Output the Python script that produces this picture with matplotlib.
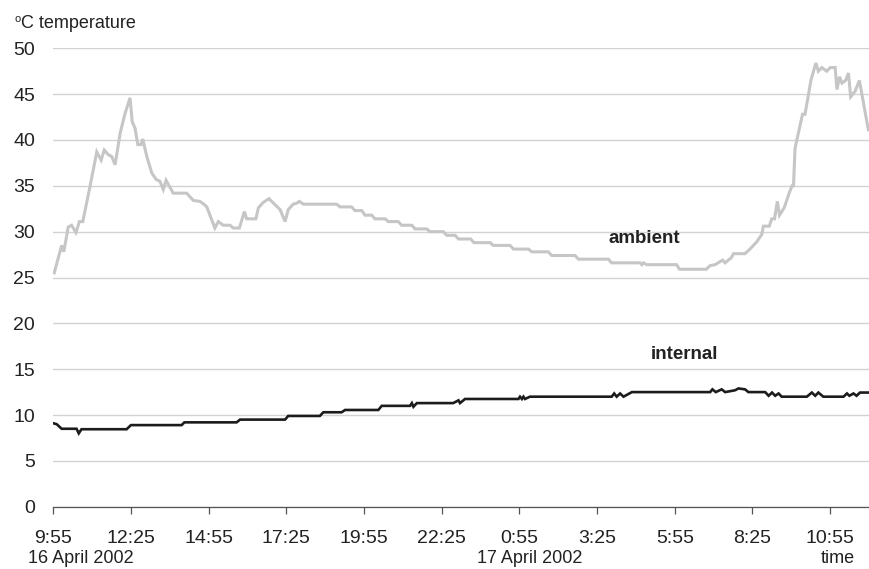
import matplotlib.pyplot as plt
import matplotlib.transforms as mtransforms

# hours after 9:55 on 16 April 2002
amb_hours = [0.03, 0.27, 0.34, 0.48, 0.59, 0.73, 0.84, 0.95, 1.18, 1.40, 1.54, 1.64, 1.77, 1.88, 1.99,
             2.15, 2.31, 2.47, 2.54, 2.63, 2.72, 2.82, 2.88, 3.01, 3.17, 3.31, 3.43, 3.54, 3.63, 3.86,
             4.29, 4.51, 4.72, 4.88, 4.94, 5.20, 5.31, 5.47, 5.69, 5.79, 5.99, 6.15, 6.22, 6.52, 6.60,
             6.76, 6.94, 7.30, 7.46, 7.56, 7.72, 7.83, 7.92, 8.05, 9.12, 9.23, 9.60, 9.71, 9.93, 10.03,
             10.25, 10.35, 10.68, 10.78, 11.10, 11.21, 11.54, 11.64, 12.02, 12.12, 12.55, 12.66, 12.93,
             13.04, 13.43, 13.54, 14.06, 14.16, 14.70, 14.81, 15.29, 15.40, 15.93, 16.04, 16.79, 16.90,
             17.86, 17.97, 18.88, 18.94, 18.99, 19.10, 20.06, 20.15, 21.01, 21.14, 21.30, 21.54, 21.62,
             21.83, 21.89, 22.26, 22.42, 22.64, 22.80, 22.85, 23.04, 23.12, 23.21, 23.30, 23.37, 23.52,
             23.66, 23.77, 23.82, 23.87, 24.03, 24.11, 24.19, 24.30, 24.38, 24.54, 24.62, 24.73, 24.89,
             25.00, 25.16, 25.22, 25.30, 25.38, 25.50, 25.59, 25.66, 25.80, 25.94, 26.23]
amb_temp = [25.5, 28.5, 27.8, 30.5, 30.7, 29.9, 31.1, 31.1, 34.9, 38.7, 37.8, 38.9, 38.4, 38.2, 37.3,
            40.7, 42.9, 44.6, 42.0, 41.3, 39.5, 39.5, 40.1, 38.2, 36.4, 35.7, 35.5, 34.6, 35.6, 34.2,
            34.2, 33.4, 33.3, 32.9, 32.7, 30.4, 31.1, 30.7, 30.7, 30.4, 30.4, 32.2, 31.4, 31.4, 32.6,
            33.2, 33.6, 32.4, 31.1, 32.4, 33.0, 33.1, 33.3, 33.0, 33.0, 32.7, 32.7, 32.3, 32.3, 31.8,
            31.8, 31.4, 31.4, 31.1, 31.1, 30.7, 30.7, 30.3, 30.3, 30.0, 30.0, 29.6, 29.6,
            29.2, 29.2, 28.8, 28.8, 28.5, 28.5, 28.1, 28.1, 27.8, 27.8, 27.4, 27.4, 27.0,
            27.0, 26.6, 26.6, 26.4, 26.6, 26.4, 26.4, 25.9, 25.9, 26.3, 26.4, 26.9, 26.6,
            27.2, 27.6, 27.6, 28.1, 28.9, 29.7, 30.6, 30.6, 31.4, 31.4, 33.3, 31.8, 32.6,
            34.0, 35.0, 35.0, 39.1, 41.6, 42.8, 42.8, 44.9, 46.5, 48.4, 47.5, 47.9, 47.5,
            47.9, 47.9, 45.5, 46.9, 46.2, 46.5, 47.3, 44.7, 45.3, 46.5, 41.1]

int_hours = [0.00, 0.11, 0.27, 0.75, 0.82, 0.91, 2.36, 2.50, 4.13, 4.22, 5.90, 6.01, 7.46, 7.56, 8.58,
             8.69, 9.28, 9.39, 10.46, 10.57, 11.48, 11.54, 11.59, 11.70, 12.87, 13.04, 13.09, 13.25,
             14.97, 15.02, 15.08, 15.13, 15.18, 15.34, 17.97, 18.05, 18.13, 18.24, 18.35, 18.62,
             21.14, 21.21, 21.32, 21.51, 21.62, 21.94, 22.05, 22.26, 22.37, 22.91, 23.02, 23.13,
             23.23, 23.34, 23.44, 24.25, 24.41, 24.52, 24.62, 24.78, 25.43, 25.54, 25.62, 25.75,
             25.85, 25.96, 26.25]
int_temp = [9.1, 9.0, 8.5, 8.5, 8.0, 8.45, 8.45, 8.9, 8.9, 9.2, 9.2, 9.5, 9.5, 9.9, 9.9,
            10.3, 10.3, 10.55, 10.55, 11.0, 11.0, 11.3, 10.9, 11.3, 11.3, 11.6, 11.3, 11.75,
            11.75, 12.0, 11.75, 12.0, 11.75, 12.0, 12.0, 12.35, 12.0, 12.35, 12.0, 12.5,
            12.5, 12.8, 12.5, 12.8, 12.5, 12.7, 12.9, 12.8, 12.5, 12.5, 12.1, 12.45,
            12.1, 12.35, 12.0, 12.0, 12.45, 12.1, 12.45, 12.0, 12.0, 12.35, 12.1, 12.35,
            12.1, 12.45, 12.45]

tick_hours = [0, 2.5, 5, 7.5, 10, 12.5, 15, 17.5, 20, 22.5, 25]
tick_labels = ['9:55', '12:25', '14:55', '17:25', '19:55', '22:25', '0:55', '3:25', '5:55', '8:25', '10:55']
y_ticks = [0, 5, 10, 15, 20, 25, 30, 35, 40, 45, 50]

plt.rcParams['font.family'] = ['Liberation Sans', 'DejaVu Sans']
narrow = ['Liberation Sans Narrow', 'Liberation Sans']

fig = plt.figure(figsize=(8.69, 5.69), dpi=100)
ax = fig.add_axes([0.0613, 0.1095, 0.9387, 0.8056])

ax.plot(amb_hours, amb_temp, color='#c6c6c6', lw=2.2, solid_joinstyle='miter', zorder=3)
ax.plot(int_hours, int_temp, color='#1c1c1c', lw=1.9, solid_joinstyle='miter', zorder=4)

ax.set_xlim(0, 26.25)
ax.set_ylim(0, 50)
ax.set_yticks(y_ticks)
ax.set_xticks(tick_hours)
ax.set_xticklabels(tick_labels)

# light horizontal grid
ax.yaxis.grid(True, color='#d2d2d2', lw=1.0)
ax.set_axisbelow(True)
for s in ['top', 'right', 'left']:
    ax.spines[s].set_visible(False)
ax.spines['bottom'].set_color('#555555')
ax.spines['bottom'].set_linewidth(0.9)
ax.spines['bottom'].set_zorder(5)

ax.tick_params(axis='y', length=0, pad=13, labelsize=14, labelcolor='#222222')
ax.tick_params(axis='x', length=5, width=0.9, color='#555555', direction='out',
               pad=12, labelsize=14, labelcolor='#222222')

# axis title at top-left
fig.text(15 / 869, 1 - 22 / 569, 'o', fontsize=8, color='#222222', va='baseline')
fig.text(21 / 869, 1 - 28 / 569, 'C temperature', fontsize=13, color='#222222',
         family=narrow, va='baseline')

# date labels under the time axis
trans = mtransforms.blended_transform_factory(ax.transData, ax.transAxes)
ax.text(0.89, -0.114, '16 April 2002', transform=trans, ha='center', va='center',
        fontsize=13, color='#222222', family=narrow)
ax.text(15.34, -0.114, '17 April 2002', transform=trans, ha='center', va='center',
        fontsize=13, color='#222222', family=narrow)
ax.text(25.26, -0.114, 'time', transform=trans, ha='center', va='center',
        fontsize=13, color='#222222', family=narrow)

# series labels
ax.text(19.01, 29.3, 'ambient', ha='center', va='center', fontsize=13.5,
        fontweight='bold', color='#222222', family=narrow)
ax.text(20.30, 16.55, 'internal', ha='center', va='center', fontsize=13.5,
        fontweight='bold', color='#222222', family=narrow)

for lbl in ax.get_xticklabels() + ax.get_yticklabels():
    lbl.set_family(narrow)

fig.savefig('out.png', dpi=100)
